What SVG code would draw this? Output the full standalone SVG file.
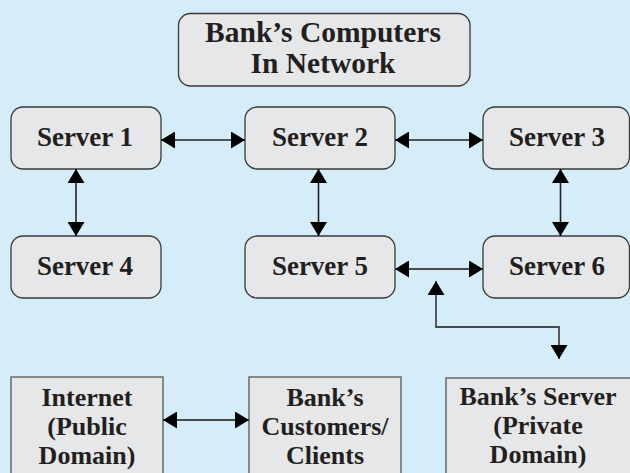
<svg xmlns="http://www.w3.org/2000/svg" width="630" height="473" viewBox="0 0 630 473">
<style>
.bg{fill:#d5ecf9}
.rbox{fill:#e6e7e8;stroke:#3a3a3a;stroke-width:1.3}
.sbox{fill:#e6e7e8;stroke:#555;stroke-width:1.3}
.t{font-family:"Liberation Serif","Times New Roman",serif;font-weight:bold;fill:#231f20;text-anchor:middle}
.srv{font-size:27px}
.ttl{font-size:29.5px}
.bot{font-size:26px}
.c{fill:none;stroke:#222;stroke-width:1.6}
.c2{fill:none;stroke:#4a4a4a;stroke-width:1.8}
</style>
<defs>
<marker id="ah" markerUnits="userSpaceOnUse" markerWidth="14" markerHeight="17" refX="14" refY="8.5" orient="auto-start-reverse" viewBox="0 0 14 17">
<path d="M0,0 L14,8.5 L0,17 z" fill="#000"/>
</marker>
</defs>
<rect class="bg" x="0" y="0" width="630" height="473"/>
<g id="title">
<rect class="rbox" x="178.5" y="13.5" width="291.5" height="72.5" rx="12"/>
<text class="t ttl" x="323" y="42">Bank’s Computers</text>
<text class="t ttl" x="323" y="73">In Network</text>
</g>
<g id="server1">
<rect class="rbox" x="11" y="107" width="150" height="62" rx="12"/>
<text class="t srv" x="85" y="146">Server 1</text>
</g>
<g id="server2">
<rect class="rbox" x="245" y="107" width="150" height="62" rx="12"/>
<text class="t srv" x="320" y="146">Server 2</text>
</g>
<g id="server3">
<rect class="rbox" x="483" y="107" width="146.5" height="62" rx="12"/>
<text class="t srv" x="557" y="146">Server 3</text>
</g>
<g id="server4">
<rect class="rbox" x="11" y="236" width="150" height="62" rx="12"/>
<text class="t srv" x="85" y="275">Server 4</text>
</g>
<g id="server5">
<rect class="rbox" x="245" y="236" width="150" height="62" rx="12"/>
<text class="t srv" x="320" y="275">Server 5</text>
</g>
<g id="server6">
<rect class="rbox" x="483" y="236" width="146.5" height="62" rx="12"/>
<text class="t srv" x="557" y="275">Server 6</text>
</g>
<g id="internet">
<rect class="sbox" x="11" y="377" width="152" height="110"/>
<text class="t bot" x="87" y="406">Internet</text>
<text class="t bot" x="87" y="435">(Public</text>
<text class="t bot" x="87" y="464">Domain)</text>
</g>
<g id="customers">
<rect class="sbox" x="249" y="377" width="152" height="110"/>
<text class="t bot" x="325" y="406">Bank’s</text>
<text class="t bot" x="325" y="435">Customers/</text>
<text class="t bot" x="325" y="464">Clients</text>
</g>
<g id="bankserver">
<rect class="sbox" x="446" y="378" width="200" height="110"/>
<text class="t bot" x="538" y="405">Bank’s Server</text>
<text class="t bot" x="538" y="434">(Private</text>
<text class="t bot" x="538" y="463">Domain)</text>
</g>
<g id="connectors">
<line class="c" x1="161" y1="140" x2="245" y2="140" marker-start="url(#ah)" marker-end="url(#ah)"/>
<line class="c" x1="395" y1="140" x2="483" y2="140" marker-start="url(#ah)" marker-end="url(#ah)"/>
<line class="c" x1="76" y1="169" x2="76" y2="236" marker-start="url(#ah)" marker-end="url(#ah)"/>
<line class="c" x1="318.5" y1="169" x2="318.5" y2="236" marker-start="url(#ah)" marker-end="url(#ah)"/>
<line class="c" x1="560.5" y1="169" x2="560.5" y2="236" marker-start="url(#ah)" marker-end="url(#ah)"/>
<line class="c2" x1="395" y1="269" x2="483" y2="269" marker-start="url(#ah)" marker-end="url(#ah)"/>
<path class="c2" d="M436,281 L436,327 L559,327 L559,359" marker-start="url(#ah)" marker-end="url(#ah)"/>
<line class="c2" x1="163" y1="420" x2="249" y2="420" marker-start="url(#ah)" marker-end="url(#ah)"/>
</g>
</svg>
